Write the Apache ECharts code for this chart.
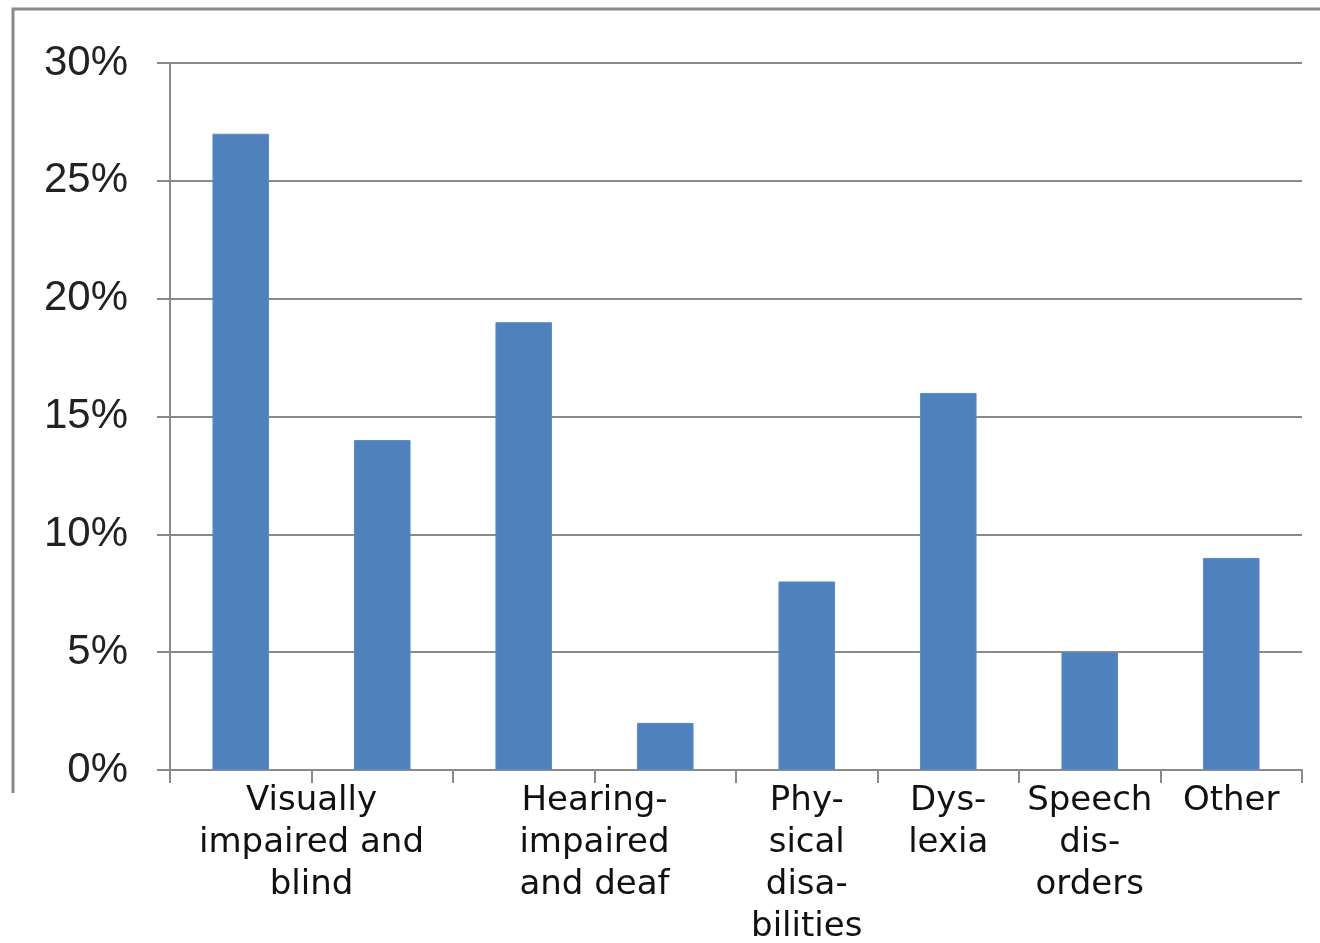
<!DOCTYPE html>
<html>
<head>
<meta charset="utf-8">
<title>Share by type of impairment</title>
<script src="https://cdn.jsdelivr.net/npm/echarts@6/dist/echarts.min.js"></script>
<style>
  html, body { margin: 0; padding: 0; background: #ffffff; }
  #chart { width: 1320px; height: 943px; }
</style>
</head>
<body>
<div id="chart"></div>
<script>
// Bars, one per group of respondents
const categories = ['Visually impaired', 'Blind', 'Hearing-impaired', 'Deaf',
  'Physical disabilities', 'Dyslexia', 'Speech disorders', 'Other'];
const shares = [27, 14, 19, 2, 8, 16, 5, 9];

// Axis captions and the bars (first..last index) each caption spans
const groupLabels = ['Visually\nimpaired and\nblind', 'Hearing-\nimpaired\nand deaf',
  'Phy-\nsical\ndisa-\nbilities', 'Dys-\nlexia', 'Speech\ndis-\norders', 'Other'];
const groupSpans = [[0, 1], [2, 3], [4, 4], [5, 5], [6, 6], [7, 7]];

// Percentage ticks on the value axis
const yTicks = [0, 5, 10, 15, 20, 25, 30];

// caption lookup keyed by the centre of the span it covers
const captionAt = {};
groupSpans.forEach((s, i) => { captionAt[((s[0] + s[1] + 1) / 2).toFixed(1)] = groupLabels[i]; });

const gridColor = '#8a8a8a';
const chart = echarts.init(document.getElementById('chart'));

chart.setOption({
  animation: false,
  backgroundColor: '#ffffff',
  grid: { left: 170, right: 18, top: 63, bottom: 173, containLabel: false, outerBoundsMode: 'none' },
  xAxis: [
    {
      type: 'category',
      data: categories,
      boundaryGap: true,
      axisLine: { show: true, lineStyle: { color: gridColor, width: 2 } },
      axisTick: { show: true, length: 13, inside: false, lineStyle: { color: gridColor, width: 2 } },
      axisLabel: { show: false },
      splitLine: { show: false }
    },
    {
      type: 'value',
      min: 0,
      max: categories.length,
      interval: 0.5,
      position: 'bottom',
      axisLine: { show: false },
      axisTick: { show: false },
      splitLine: { show: false },
      axisLabel: {
        show: true,
        margin: 10,
        fontFamily: 'DejaVu Sans',
        fontSize: 34,
        lineHeight: 42,
        color: '#111111',
        align: 'center',
        verticalAlign: 'top',
        formatter: v => captionAt[Number(v).toFixed(1)] || ''
      }
    }
  ],
  yAxis: {
    type: 'value',
    min: yTicks[0],
    max: yTicks[yTicks.length - 1],
    interval: yTicks[1] - yTicks[0],
    axisLine: { show: true, lineStyle: { color: gridColor, width: 2 } },
    axisTick: { show: true, length: 13, lineStyle: { color: gridColor, width: 2 } },
    splitLine: { show: true, lineStyle: { color: gridColor, width: 2 } },
    axisLabel: {
      margin: 42,
      fontFamily: 'Liberation Sans',
      fontSize: 42,
      color: '#222222',
      formatter: '{value}%'
    }
  },
  series: [{
    type: 'bar',
    xAxisIndex: 0,
    data: shares,
    barWidth: '40%',
    itemStyle: { color: '#4f81bd', borderColor: '#5a8bc6', borderWidth: 1 }
  }],
  graphic: [{
    type: 'polyline',
    silent: true,
    shape: { points: [[13, 793], [13, 9], [1322, 9]] },
    style: { stroke: '#8a8a8a', lineWidth: 3, fill: null }
  }]
});
</script>
</body>
</html>
